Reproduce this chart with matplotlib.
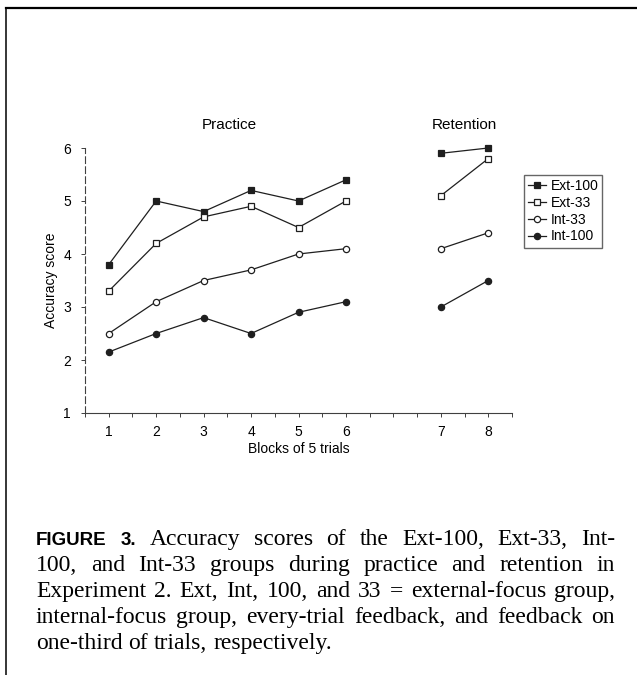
import matplotlib
matplotlib.use("Agg")
import matplotlib.pyplot as plt
import matplotlib.transforms as mtransforms
from matplotlib.lines import Line2D
import numpy as np

# values
practice_blocks = [1, 2, 3, 4, 5, 6]
retention_blocks = [7, 8]
groups = ["Ext-100", "Ext-33", "Int-33", "Int-100"]
practice = {
    "Ext-100": [3.8, 5.0, 4.8, 5.2, 5.0, 5.4],
    "Ext-33": [3.3, 4.2, 4.7, 4.9, 4.5, 5.0],
    "Int-33": [2.5, 3.1, 3.5, 3.7, 4.0, 4.1],
    "Int-100": [2.15, 2.5, 2.8, 2.5, 2.9, 3.1],
}
retention = {
    "Ext-100": [5.9, 6.0],
    "Ext-33": [5.1, 5.8],
    "Int-33": [4.1, 4.4],
    "Int-100": [3.0, 3.5],
}
yticks = [1, 2, 3, 4, 5, 6]

caption_lines = [
    "Accuracy scores of the Ext-100, Ext-33, Int-",
    "100, and Int-33 groups during practice and retention in",
    "Experiment 2. Ext, Int, 100, and 33 = external-focus group,",
    "internal-focus group, every-trial feedback, and feedback on",
    "one-third of trials, respectively.",
]

W, H = 637, 675
SANS = "Liberation Sans"
SERIF = "Liberation Serif"
ink = "0.12"

styles = {
    "Ext-100": dict(marker="s", mfc=ink, ms=5),
    "Ext-33": dict(marker="s", mfc="white", ms=5),
    "Int-33": dict(marker="o", mfc="white", ms=4.5),
    "Int-100": dict(marker="o", mfc=ink, ms=4.5),
}

plt.rcParams["font.family"] = SANS
fig = plt.figure(figsize=(W / 100, H / 100), dpi=100)
ax = fig.add_axes([85 / W, 1 - 413 / H, (512 - 85) / W, (413 - 148) / H])

# retention blocks sit after a one-block gap
ret_pos = np.array(retention_blocks) + 1
prac_pos = np.array(practice_blocks)

for g in groups:
    st = styles[g]
    ax.plot(prac_pos, practice[g], color=ink, lw=0.9, mec=ink, mew=0.9, label=g, clip_on=False, **st)
    ax.plot(ret_pos, retention[g], color=ink, lw=0.9, mec=ink, mew=0.9, clip_on=False, **st)

ax.set_xlim(0.5, 9.5)
ax.set_ylim(1, 6)
ax.spines["top"].set_visible(False)
ax.spines["right"].set_visible(False)
ax.spines["left"].set_linestyle((0, (6, 3)))
ax.spines["left"].set_linewidth(0.8)
ax.spines["bottom"].set_linewidth(0.8)
ax.spines["left"].set_color("0.25")
ax.spines["bottom"].set_color("0.25")

label_pos = list(prac_pos) + list(ret_pos)
ax.set_xticks(label_pos)
ax.set_xticklabels([str(b) for b in practice_blocks + retention_blocks])
minor = [p for p in np.arange(0.5, 9.51, 0.5) if p not in label_pos]
ax.set_xticks(minor, minor=True)
ax.set_yticks(yticks)
ax.set_yticklabels([str(v) for v in yticks])
ax.tick_params(axis="both", which="both", direction="out", length=3, width=0.7, color="0.25", labelsize=10)
ax.tick_params(axis="x", pad=6)
ax.tick_params(axis="y", pad=7)
ax.set_xlabel("Blocks of 5 trials", fontsize=10, labelpad=2)
ax.set_ylabel("Accuracy score", fontsize=10, labelpad=4)

trans = mtransforms.blended_transform_factory(ax.transData, ax.transAxes)
ax.text(3.55, 1.087, "Practice", transform=trans, ha="center", va="center", fontsize=11)
ax.text(8.5, 1.087, "Retention", transform=trans, ha="center", va="center", fontsize=11)

fig.legend(loc="upper left", bbox_to_anchor=(524 / W, 1 - 175 / H), bbox_transform=fig.transFigure,
           borderaxespad=0, fontsize=10, fancybox=False, edgecolor="0.4", framealpha=1,
           handlelength=1.3, handletextpad=0.3, borderpad=0.3, labelspacing=0.2)

# frame (cropped box: top and left edges)
fig.add_artist(Line2D([6 / W, 1], [1 - 8 / H, 1 - 8 / H], transform=fig.transFigure, color="black", lw=1.6))
fig.add_artist(Line2D([6 / W, 6 / W], [1 - 8 / H, 0], transform=fig.transFigure, color="black", lw=1.1))

# justified caption
renderer = fig.canvas.get_renderer()
bold = dict(family=SANS, weight="bold", size=13.5)
serif = dict(family=SERIF, size=17)
x0, x1 = 36, 615
baselines = [545, 571, 597, 623, 649]


def place_line(words, y, justify=True):
    objs = [fig.text(0, 1 - y / H, w, va="baseline", ha="left", **st) for w, st in words]
    widths = [t.get_window_extent(renderer).width for t in objs]
    sp = fig.text(0, 0, "a a", **serif)
    sa = fig.text(0, 0, "aa", **serif)
    space = sp.get_window_extent(renderer).width - sa.get_window_extent(renderer).width
    sp.remove()
    sa.remove()
    gap = space
    if justify:
        gap = max(space * 0.6, (x1 - x0 - sum(widths)) / (len(objs) - 1))
    x = x0
    for t, w in zip(objs, widths):
        t.set_x(x / W)
        x += w + gap


for i, line in enumerate(caption_lines):
    words = [(w, serif) for w in line.split(" ")]
    if i == 0:
        words = [("FIGURE", bold), ("3.", bold)] + words
    place_line(words, baselines[i], justify=(i < len(caption_lines) - 1))

fig.savefig("out.png", dpi=100)
